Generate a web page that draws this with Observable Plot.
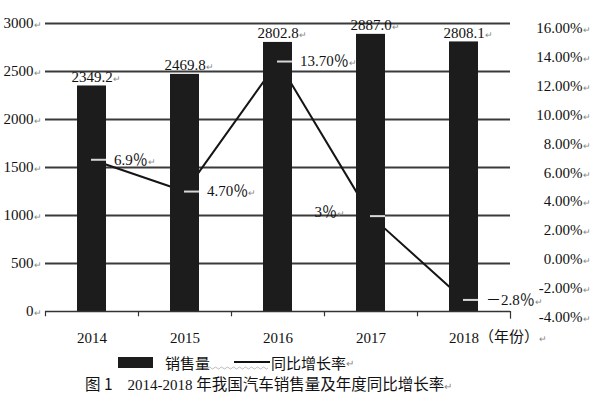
<!DOCTYPE html>
<html>
<head>
<meta charset="utf-8">
<script src="https://cdn.jsdelivr.net/npm/d3@7"></script>
<script src="https://cdn.jsdelivr.net/npm/@observablehq/plot@0.6"></script>
<style>
  html, body { margin: 0; padding: 0; background: #fff; }
  #wrap { position: relative; width: 593px; height: 396px; overflow: hidden; }
  #legend { position: absolute; left: 118px; top: 352px; height: 20px; display: flex; align-items: center;
    font-family: "Noto Sans CJK SC", sans-serif; font-size: 15px; color: #111; white-space: nowrap; }
  #legend .sw { display: inline-block; width: 35px; height: 11px; background: #1c1c1c; margin-right: 12px; }
  #legend .gap { display: inline-block; width: 24px; height: 20px; position: relative; }
  #legend .gap svg { position: absolute; left: -2px; top: 14px; }
  #legend .ln { display: inline-block; width: 36px; height: 2px; background: #111; margin-right: 1px; }
  #caption { position: absolute; left: 85px; top: 372px; font-size: 15px; color: #111; white-space: nowrap;
    font-family: "Liberation Serif", "Noto Sans CJK SC", serif; }
  #caption .cjk { font-family: "Noto Sans CJK SC", sans-serif; font-size: 15.5px; }
  .ret { color: #888; font-size: 10px; }
</style>
</head>
<body>
<div id="wrap">
  <div id="chart"></div>
  <div id="legend"><span class="sw"></span><span>销售量</span><span class="gap"><svg width="62" height="4"><path d="M0,2 Q1.5,0 3,2 T6,2 T9,2 T12,2 T15,2 T18,2 T21,2 T24,2 T27,2 T30,2 T33,2 T36,2 T39,2 T42,2 T45,2 T48,2 T51,2 T54,2 T57,2 T60,2" fill="none" stroke="#aaa" stroke-width="0.8"/></svg></span><span class="ln"></span><span>同比增长率</span><span class="ret">↵</span></div>
  <div id="caption"><span class="cjk">图 1</span>&nbsp;&nbsp;&nbsp;&nbsp;2014-2018 <span class="cjk">年我国汽车销售量及年度同比增长率</span><span class="ret">↵</span></div>
</div>
<script>
const years = ["2014", "2015", "2016", "2017", "2018"];
const sales = [2349.2, 2469.8, 2802.8, 2887.0, 2808.1];
const salesLabels = ["2349.2", "2469.8", "2802.8", "2887.0", "2808.1"];
const growth = [6.9, 4.7, 13.7, 3, -2.8];
const growthLabels = ["6.9％", "4.70％", "13.70％", "3％", "－2.8％"];
const salesTicks = [0, 500, 1000, 1500, 2000, 2500, 3000];
const growthTicks = [16, 14, 12, 10, 8, 6, 4, 2, 0, -2, -4];
const xUnit = "（年份）";

const rows = years.map((y, i) => ({year: y, sales: sales[i], salesLabel: salesLabels[i], growth: growth[i], growthLabel: growthLabels[i]}));

// secondary (percent) axis mapped onto the primary sales scale
const pu = v => -60 + (v + 4) * 150.5;

const serif = "'Liberation Serif', 'Times New Roman', 'Noto Sans CJK SC', serif";

const chart = Plot.plot({
  width: 593,
  height: 348,
  marginLeft: 45,
  marginRight: 83,
  marginTop: 23,
  marginBottom: 35,
  style: {fontFamily: serif, fontSize: "15px", color: "#111", background: "#fff", overflow: "visible"},
  x: {domain: years, paddingInner: 0.69, paddingOuter: 0.345, label: null},
  y: {domain: [0, 3000], range: [311, 23], label: null},
  marks: [
    Plot.ruleY(salesTicks.filter(d => d > 0), {stroke: "#3a3a3a", strokeWidth: 1.8}),
    Plot.line(rows, {x: "year", y: d => pu(d.growth), stroke: "#151515", strokeWidth: 2}),
    Plot.barY(rows, {x: "year", y: "sales", fill: "#1c1c1c"}),
    Plot.tickY(rows, {x: "year", y: d => pu(d.growth), insetLeft: 14, stroke: "#d8d8d8", strokeWidth: 2}),
    Plot.ruleY([0], {stroke: "#333", strokeWidth: 1.5}),
    Plot.ruleX(years, {x: d => d, dx: -46.5, y1: 0, y2: -55, stroke: "#333", strokeWidth: 1.2}),
    Plot.ruleX(years.slice(-1), {x: d => d, dx: 46.5, y1: 0, y2: -80, stroke: "#333", strokeWidth: 1.2}),
    Plot.axisY(salesTicks, {tickSize: 0, tickPadding: 4, tickFormat: d => d + "↵", fontSize: 15, fill: "#111", label: null}),
    Plot.text(growthTicks, {y: pu, text: d => d.toFixed(2) + "%↵", frameAnchor: "right", textAnchor: "end", dx: 80, fontSize: 15, fill: "#111"}),
    Plot.axisX(years, {tickSize: 0, tickPadding: 19, textAnchor: "start", dx: -15, fontSize: 15, fill: "#111", label: null}),
    Plot.text(years.slice(-1), {x: d => d, y: 0, dy: 26, dx: 15, text: () => xUnit + "↵", textAnchor: "start", fontSize: 15, fill: "#111", fontFamily: "'Noto Sans CJK SC', sans-serif"}),
    Plot.text(rows, {x: "year", y: "sales", text: d => d.salesLabel + "↵", dy: -9, dx: 4, fontSize: 15, fill: "#111"}),
    Plot.text(rows.filter(d => d.year !== "2017"), {x: "year", y: d => pu(d.growth), text: d => d.growthLabel + "↵", textAnchor: "start", dx: 22, fontSize: 15, fill: "#111"}),
    Plot.text(rows.filter(d => d.year === "2017"), {x: "year", y: d => pu(d.growth), text: d => d.growthLabel + "↵", textAnchor: "end", dx: -26, dy: -4, fontSize: 15, fill: "#111"})
  ]
});

// render the trailing paragraph marks small and grey, as in the scanned original
chart.querySelectorAll("text").forEach(t => {
  const s = t.textContent;
  if (s.endsWith("↵") && t.childNodes.length === 1 && t.firstChild.nodeType === 3) {
    t.firstChild.nodeValue = s.slice(0, -1);
    const ts = document.createElementNS("http://www.w3.org/2000/svg", "tspan");
    ts.setAttribute("font-size", "9");
    ts.setAttribute("fill", "#888");
    ts.textContent = "↵";
    t.appendChild(ts);
  }
});
document.getElementById("chart").appendChild(chart);
</script>
</body>
</html>
